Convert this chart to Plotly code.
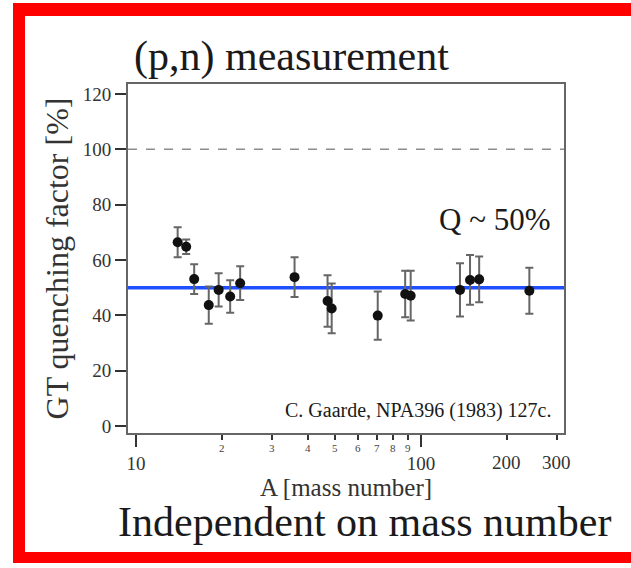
import math
import plotly.graph_objects as go

# ---------------- data ----------------
mass_number = [14, 15, 16, 18, 19.5, 21.4, 23.2, 36, 47, 48.6, 70.5, 88, 92, 137, 148.6, 160, 240]
quenching = [66.4, 64.8, 53.1, 43.7, 49.2, 46.8, 51.6, 53.8, 45.2, 42.5, 39.9, 47.7, 47.1, 49.2, 52.8, 53.0, 48.9]
quench_err = [5.4, 2.6, 5.4, 6.7, 6.0, 5.9, 6.1, 7.2, 9.3, 9.0, 8.7, 8.4, 9.0, 9.6, 9.0, 8.3, 8.3]
q_mean = 50
q_reference = 100
y_ticks = [0, 20, 40, 60, 80, 100, 120]
x_major_ticks = [10, 100]
x_minor_ticks = [20, 30, 40, 50, 60, 70, 80, 90, 200, 300]
x_small_labels = ["2", "3", "4", "5", "6", "7", "8", "9"]
x_big_labels = ["200", "300"]

# ---------------- layout geometry ----------------
W, H = 631, 568
L, R, T, B = 128, 564, 84, 433  # plot area in pixels
PW, PH = R - L, B - T


def px(x):
    return (x - L) / PW


def py(y):
    return (B - y) / PH


FONT = "Liberation Serif"
TXT = "#1a1a1a"

fig = go.Figure()

fig.add_trace(go.Scatter(
    x=mass_number, y=quenching, mode="markers",
    marker=dict(color="#111111", size=10),
    error_y=dict(type="data", array=quench_err, visible=True,
                 color="#666666", thickness=2, width=4),
    showlegend=False, hoverinfo="x+y",
))

shapes = [
    # dashed reference line at 100 %
    dict(type="line", xref="paper", yref="y", x0=0, x1=1, y0=q_reference, y1=q_reference,
         line=dict(color="#8c8c8c", width=1.5, dash="dash"), layer="below"),
    # mean quenching line
    dict(type="line", xref="paper", yref="y", x0=0, x1=1, y0=q_mean, y1=q_mean,
         line=dict(color="#1f4fff", width=3.5), layer="below"),
]
# red frame (top, left, bottom)
red = "#ff0000"
for x0, y0, x1, y1 in [(13, 3, W + 5, 16), (13, 3, 25, 563), (13, 552, W + 5, 563)]:
    shapes.append(dict(type="rect", xref="paper", yref="paper",
                       x0=px(x0), x1=px(x1), y0=py(y0), y1=py(y1),
                       fillcolor=red, line=dict(width=0), layer="above"))


def note(text, x, y, size, color=TXT, xanchor="center", xref="paper"):
    return dict(text=text, xref=xref, yref="paper", x=x, y=py(y),
                xanchor=xanchor, yanchor="middle", showarrow=False,
                font=dict(family=FONT, size=size, color=color))


annotations = [
    note("(p,n) measurement", px(291), 57, 42),
    note("Independent on mass number", px(364), 522, 42),
    note("Q ~ 50%", px(494), 219, 31),
    note("C. Gaarde, NPA396 (1983) 127c.", px(553), 410, 20, xanchor="right"),
]
for val, lab in zip(x_minor_ticks[:8], x_small_labels):
    annotations.append(note(lab, math.log10(val), 448, 11, color="#444", xref="x"))
for val, lab in zip(x_minor_ticks[8:], x_big_labels):
    annotations.append(note(lab, math.log10(val), 462, 19, color="#333", xref="x"))

x0_log = 1 - 8 / 285
x1_log = x0_log + PW / 285
ppu = (426 - 94) / 120.0

fig.update_layout(
    width=W, height=H,
    margin=dict(l=L, r=W - R, t=T, b=H - B),
    paper_bgcolor="white", plot_bgcolor="white",
    font=dict(family=FONT, color="#333"),
    shapes=shapes, annotations=annotations,
    xaxis=dict(
        type="log", range=[x0_log, x1_log],
        tickvals=x_major_ticks, ticktext=[str(v) for v in x_major_ticks],
        ticks="outside", ticklen=12, tickwidth=1.5, tickcolor="#333",
        tickfont=dict(family=FONT, size=19, color="#333"),
        minor=dict(tickvals=x_minor_ticks, ticks="outside", ticklen=5, tickwidth=1.5, tickcolor="#333"),
        showline=True, linecolor="#666", linewidth=2, mirror=True,
        showgrid=False, zeroline=False,
        title=dict(text="A [mass number]", font=dict(family=FONT, size=25, color="#333"), standoff=2),
    ),
    yaxis=dict(
        range=[-(B - 426) / ppu, (426 - T) / ppu],
        tickvals=y_ticks, ticks="outside", ticklen=11, tickwidth=1.5, tickcolor="#333",
        tickfont=dict(family=FONT, size=19, color="#333"),
        showline=True, linecolor="#666", linewidth=2, mirror=True,
        showgrid=False, zeroline=False,
        title=dict(text="GT quenching factor [%]", font=dict(family=FONT, size=32, color="#333"), standoff=5),
    ),
)

fig.write_html("out.html")
